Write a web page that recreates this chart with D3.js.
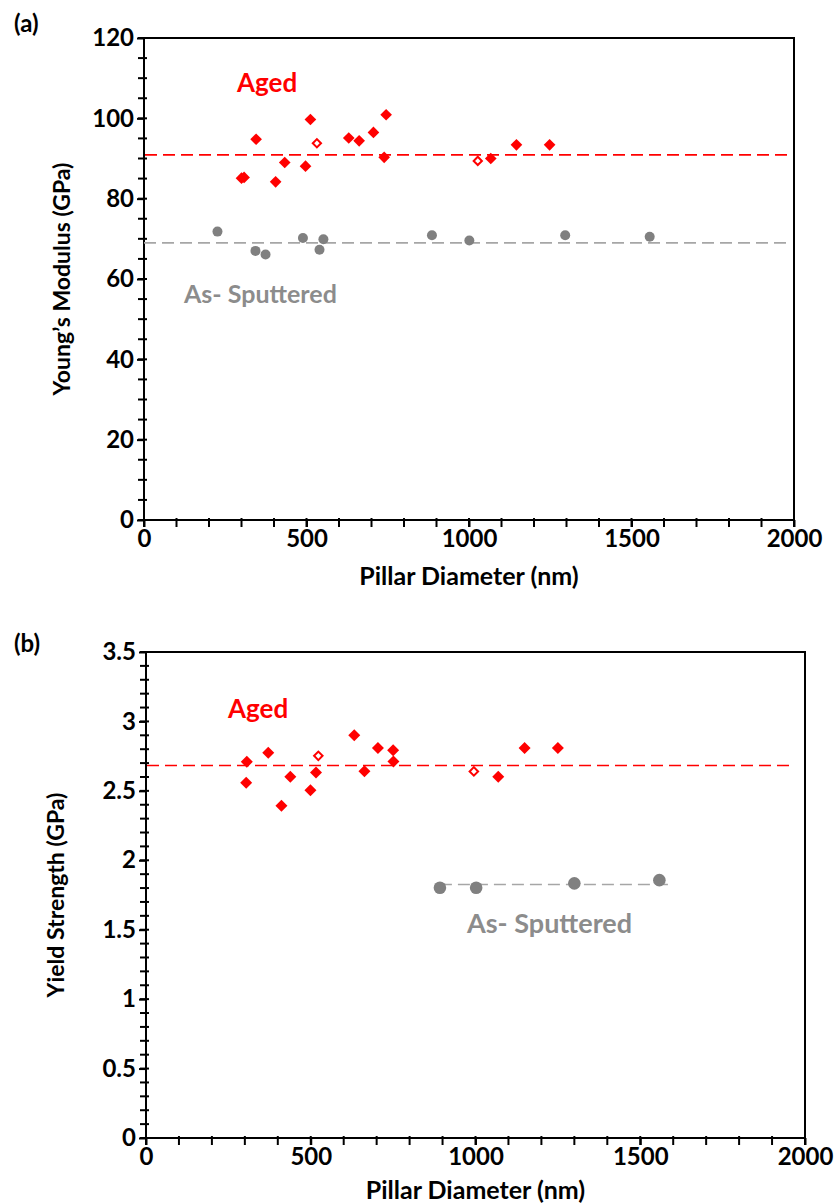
<!DOCTYPE html>
<html>
<head>
<meta charset="utf-8">
<script src="https://cdn.jsdelivr.net/npm/d3@7"></script>
<style>
  body { margin: 0; background: #fff; }
  svg text { font-family: Lato, "Open Sans", sans-serif; font-weight: bold; }
  .axis path, .axis line { stroke: #000; stroke-width: 2; }
  .axis text { font-size: 24px; fill: #000; }
</style>
</head>
<body>
<div id="content"></div>
<script>
// panel (a): Young's modulus
var agedEX = [300, 308, 345, 405, 433, 497, 512, 630, 662, 706, 745, 739, 1067, 1146, 1248],
    agedEY = [85.1, 85.3, 94.8, 84.2, 89.0, 88.1, 99.7, 95.1, 94.4, 96.5, 100.9, 90.3, 90.0, 93.4, 93.4],
    agedEOpenX = [532, 1027],
    agedEOpenY = [93.8, 89.4],
    sputEX = [226, 343, 374, 489, 540, 552, 886, 1001, 1296, 1556],
    sputEY = [71.8, 67.0, 66.1, 70.2, 67.3, 69.9, 70.9, 69.6, 70.9, 70.5],
    agedEMean = 90.9,
    sputEMean = 69.0;

// panel (b): yield strength
var agedSX = [304, 306, 371, 411, 438, 499, 516, 632, 663, 704, 750, 751, 1069, 1149, 1250],
    agedSY = [2.558, 2.709, 2.774, 2.392, 2.601, 2.505, 2.633, 2.901, 2.642, 2.808, 2.793, 2.712, 2.601, 2.808, 2.808],
    agedSOpenX = [523, 995],
    agedSOpenY = [2.752, 2.640],
    sputSX = [892, 1002, 1300, 1558],
    sputSY = [1.802, 1.802, 1.834, 1.857],
    agedSMean = 2.683,
    sputSMean = 1.826,
    sputSSpan = [892, 1590];

var xTicks = [0, 500, 1000, 1500, 2000];
var yTicksE = [0, 20, 40, 60, 80, 100, 120];
var yTicksS = [0, 0.5, 1, 1.5, 2, 2.5, 3, 3.5];

function zip(xs, ys) {
    return xs.map(function(x, i) { return [x, ys[i]]; });
}

var svg = d3.select("#content").append("svg")
    .attr("width", 834)
    .attr("height", 1203);

function panel(cfg) {
    var x = d3.scaleLinear().domain([0, 2000]).range([cfg.left, cfg.right]),
        y = d3.scaleLinear().domain(cfg.yDomain).range([cfg.bottom, cfg.top]);

    var g = svg.append("g");

    // frame
    g.append("rect")
        .attr("x", cfg.left).attr("y", cfg.top)
        .attr("width", cfg.right - cfg.left).attr("height", cfg.bottom - cfg.top)
        .attr("fill", "none").attr("stroke", "#000").attr("stroke-width", 2);

    // minor ticks, crossing the axis
    g.append("g").selectAll("line")
        .data(d3.range(cfg.yDomain[0], cfg.yDomain[1] + cfg.yMinor / 2, cfg.yMinor))
        .enter().append("line")
        .attr("x1", cfg.left - 6).attr("x2", cfg.left + 3)
        .attr("y1", function(d) { return y(d); }).attr("y2", function(d) { return y(d); })
        .attr("stroke", "#000").attr("stroke-width", 2);

    g.append("g").selectAll("line")
        .data(d3.range(0, 2001, 100))
        .enter().append("line")
        .attr("x1", function(d) { return x(d); }).attr("x2", function(d) { return x(d); })
        .attr("y1", cfg.bottom - 2).attr("y2", cfg.bottom + 7)
        .attr("stroke", "#000").attr("stroke-width", 2);

    var yAxis = d3.axisLeft(y).tickValues(cfg.yTicks).tickSize(7).tickPadding(3)
        .tickFormat(d3.format("~g"));
    var xAxis = d3.axisBottom(x).tickValues(xTicks).tickSize(7).tickPadding(3)
        .tickFormat(d3.format("d"));

    g.append("g").attr("class", "axis")
        .attr("transform", "translate(" + cfg.left + ",0)")
        .call(yAxis)
        .call(function(s) { s.select(".domain").remove(); });

    g.append("g").attr("class", "axis")
        .attr("transform", "translate(0," + cfg.bottom + ")")
        .call(xAxis)
        .call(function(s) { s.select(".domain").remove(); });

    // mean lines
    g.append("line")
        .attr("x1", x(0) + 1).attr("x2", x(cfg.redEnd))
        .attr("y1", y(cfg.agedMean)).attr("y2", y(cfg.agedMean))
        .attr("stroke", "#ff0000").attr("stroke-width", 1.6)
        .attr("stroke-dasharray", "12,6");

    g.append("line")
        .attr("x1", x(cfg.grayStart)).attr("x2", x(cfg.grayEnd))
        .attr("y1", y(cfg.sputMean)).attr("y2", y(cfg.sputMean))
        .attr("stroke", "#a6a6a6").attr("stroke-width", 1.6)
        .attr("stroke-dasharray", "12,6");

    // as-sputtered points
    g.append("g").selectAll("circle")
        .data(cfg.sput)
        .enter().append("circle")
        .attr("cx", function(d) { return x(d[0]); })
        .attr("cy", function(d) { return y(d[1]); })
        .attr("r", cfg.r)
        .attr("fill", "#808080");

    // aged points
    var sq = d3.symbol().type(d3.symbolSquare);
    g.append("g").selectAll("path")
        .data(cfg.aged)
        .enter().append("path")
        .attr("d", sq.size(cfg.dia))
        .attr("transform", function(d) { return "translate(" + x(d[0]) + "," + y(d[1]) + ") rotate(45)"; })
        .attr("fill", "#ff0000");

    g.append("g").selectAll("path")
        .data(cfg.open)
        .enter().append("path")
        .attr("d", d3.symbol().type(d3.symbolSquare).size(cfg.dia * 0.5))
        .attr("transform", function(d) { return "translate(" + x(d[0]) + "," + y(d[1]) + ") rotate(45)"; })
        .attr("fill", "#fff")
        .attr("stroke", "#ff0000").attr("stroke-width", 2);

    // labels
    g.append("text")
        .attr("x", cfg.agedLabel[0]).attr("y", cfg.agedLabel[1])
        .attr("font-size", 26).attr("fill", "#ff0000")
        .text("Aged");

    g.append("text")
        .attr("x", cfg.sputLabel[0]).attr("y", cfg.sputLabel[1])
        .attr("font-size", cfg.sputSize).attr("fill", "#8c8c8c")
        .text("As- Sputtered");

    g.append("text")
        .attr("x", 14).attr("y", cfg.tagY)
        .attr("font-size", 24).attr("fill", "#000")
        .text(cfg.tag);

    g.append("text")
        .attr("text-anchor", "middle")
        .attr("transform", "translate(" + cfg.yTitleX + "," + (cfg.top + cfg.bottom) / 2 + ") rotate(-90)")
        .attr("font-size", 23).attr("fill", "#000")
        .text(cfg.yTitle);

    g.append("text")
        .attr("text-anchor", "middle")
        .attr("x", (cfg.left + cfg.right) / 2).attr("y", cfg.xTitleY)
        .attr("font-size", 25).attr("fill", "#000")
        .text("Pillar Diameter (nm)");
}

panel({
    left: 144, right: 794, top: 38, bottom: 520,
    yDomain: [0, 120], yTicks: yTicksE, yMinor: 5,
    aged: zip(agedEX, agedEY), open: zip(agedEOpenX, agedEOpenY), sput: zip(sputEX, sputEY),
    agedMean: agedEMean, sputMean: sputEMean,
    redEnd: 1982, grayStart: 0, grayEnd: 1982,
    r: 5, dia: 68,
    agedLabel: [237, 92], sputLabel: [184, 303], sputSize: 25,
    tag: "(a)", tagY: 32, yTitle: "Young\u2019s Modulus (GPa)", yTitleX: 70, xTitleY: 585
});

panel({
    left: 146, right: 805, top: 652, bottom: 1138,
    yDomain: [0, 3.5], yTicks: yTicksS, yMinor: 0.1,
    aged: zip(agedSX, agedSY), open: zip(agedSOpenX, agedSOpenY), sput: zip(sputSX, sputSY),
    agedMean: agedSMean, sputMean: sputSMean,
    redEnd: 1968, grayStart: sputSSpan[0], grayEnd: sputSSpan[1],
    r: 6.3, dia: 72,
    agedLabel: [228, 718], sputLabel: [467, 933], sputSize: 27,
    tag: "(b)", tagY: 652, yTitle: "Yield Strength (GPa)", yTitleX: 64, xTitleY: 1199
});
</script>
</body>
</html>
